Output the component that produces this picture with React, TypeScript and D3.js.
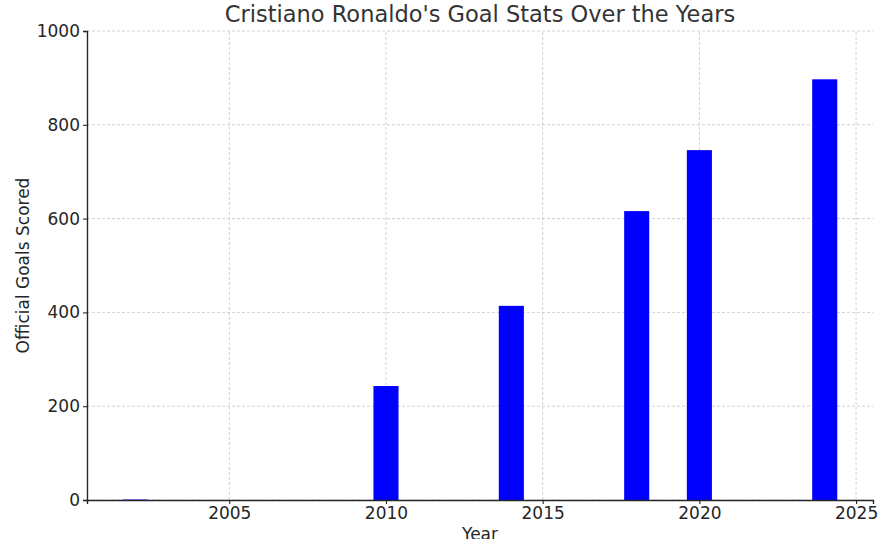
import React, { useEffect, useRef } from "react";
import * as d3 from "d3";

const years = [2002, 2010, 2014, 2018, 2020, 2024];
const goals = [1, 243, 414, 616, 746, 897];
const xTicks = [2005, 2010, 2015, 2020, 2025];
const yTicks = [0, 200, 400, 600, 800, 1000];

const W = 893, H = 539;
const M = { left: 87, right: 20, top: 31, bottom: 39 };

export default function App() {
  const ref = useRef<SVGSVGElement>(null);
  useEffect(() => {
    const svg = d3.select(ref.current);
    svg.selectAll("*").remove();
    const iw = W - M.left - M.right;
    const ih = H - M.top - M.bottom;
    const x = d3.scaleLinear().domain([2000.46, 2025.54]).range([M.left, M.left + iw]);
    const y = d3.scaleLinear().domain([0, 1000]).range([M.top + ih, M.top]);
    const font = "DejaVu Sans, sans-serif";
    const txt = "#262626";

    // grid
    const g = svg.append("g");
    xTicks.forEach((t) => {
      g.append("line").attr("x1", x(t)).attr("x2", x(t)).attr("y1", y(0)).attr("y2", y(1000))
        .attr("stroke", "#b0b0b0").attr("stroke-width", 0.8).attr("stroke-dasharray", "3,2").attr("opacity", 0.7);
    });
    yTicks.forEach((t) => {
      g.append("line").attr("x1", x.range()[0]).attr("x2", x.range()[1]).attr("y1", y(t)).attr("y2", y(t))
        .attr("stroke", "#b0b0b0").attr("stroke-width", 0.8).attr("stroke-dasharray", "3,2").attr("opacity", 0.7);
    });

    // bars
    const bw = x(2000.46 + 0.8) - x(2000.46);
    svg.append("g").selectAll("rect").data(years).join("rect")
      .attr("x", (d) => x(d) - bw / 2)
      .attr("width", bw)
      .attr("y", (_d, i) => y(goals[i]))
      .attr("height", (_d, i) => y(0) - y(goals[i]))
      .attr("fill", "#0000ff");

    // axes
    const xAxis = d3.axisBottom(x).tickValues(xTicks).tickFormat(d3.format("d")).tickSize(4).tickPadding(3);
    const yAxis = d3.axisLeft(y).tickValues(yTicks).tickFormat(d3.format("d")).tickSize(4).tickPadding(3);
    const gx = svg.append("g").attr("transform", `translate(0,${y(0)})`).call(xAxis);
    const gy = svg.append("g").attr("transform", `translate(${M.left},0)`).call(yAxis);
    [gx, gy].forEach((a) => {
      a.select(".domain").attr("stroke", "#262626").attr("stroke-width", 1.4);
      a.selectAll(".tick line").attr("stroke", "#262626").attr("stroke-width", 1.1);
      a.selectAll(".tick text").attr("fill", txt).attr("font-family", font).attr("font-size", 17);
    });

    svg.append("text").attr("x", (x.range()[0] + x.range()[1]) / 2).attr("y", 22)
      .attr("text-anchor", "middle").attr("font-family", font).attr("font-size", 22.5).attr("fill", "#333333")
      .text("Cristiano Ronaldo's Goal Stats Over the Years");
    svg.append("text").attr("x", (x.range()[0] + x.range()[1]) / 2).attr("y", 540)
      .attr("text-anchor", "middle").attr("font-family", font).attr("font-size", 17).attr("fill", txt)
      .text("Year");
    svg.append("text").attr("transform", `translate(29,${(y(0) + y(1000)) / 2}) rotate(-90)`)
      .attr("text-anchor", "middle").attr("font-family", font).attr("font-size", 17).attr("fill", txt)
      .text("Official Goals Scored");
  }, []);
  return <svg ref={ref} width={W} height={H} style={{ display: "block", position: "absolute", left: 0, top: 0 }} />;
}
